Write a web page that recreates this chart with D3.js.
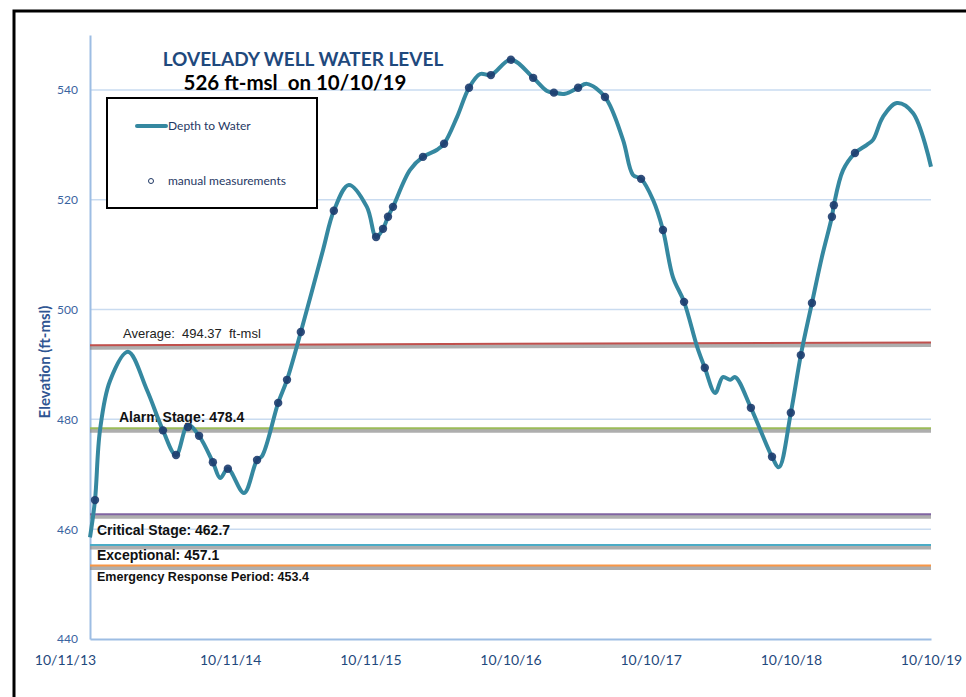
<!DOCTYPE html>
<html>
<head>
<meta charset="utf-8">
<script src="https://cdn.jsdelivr.net/npm/d3@7"></script>
<style>
  body { margin: 0; background: #fff; }
  svg { display: block; }
  .calib { font-family: Lato, 'Open Sans', sans-serif; }
  .arial { font-family: 'Liberation Sans', Arial, sans-serif; white-space: pre; }
</style>
</head>
<body>
<div id="chartContainer"></div>
<script>
// continuous well record (smoothed line)
var levelDates = ['2013-10-11','2013-10-24','2013-11-06','2013-12-02','2014-01-18','2014-03-08','2014-04-19','2014-05-23',
  '2014-06-23','2014-07-22','2014-08-27','2014-09-15','2014-10-05','2014-11-16','2014-12-20','2015-01-02','2015-02-13',
  '2015-03-08','2015-04-13','2015-06-10','2015-07-08','2015-08-16','2015-10-02','2015-10-26','2015-11-13','2015-11-26',
  '2015-12-09','2016-01-22','2016-02-25','2016-04-02','2016-04-20','2016-05-24','2016-06-24','2016-07-23','2016-08-20',
  '2016-10-11','2016-12-08','2017-01-13','2017-01-31','2017-03-01','2017-04-04','2017-04-27','2017-06-13','2017-07-30',
  '2017-08-25','2017-09-15','2017-10-16','2017-11-11','2017-12-07','2018-01-05','2018-02-08','2018-02-28','2018-03-27',
  '2018-04-16','2018-05-05','2018-05-18','2018-06-28','2018-08-22','2018-09-09','2018-10-10','2018-11-05','2018-12-04',
  '2018-12-30','2019-01-25','2019-01-30','2019-02-23','2019-03-26','2019-04-26','2019-05-12','2019-06-07','2019-07-13',
  '2019-08-24','2019-10-10'];
var levelValues = [458.5, 465.3, 478, 487, 492.3, 485.4, 478, 473.5,
  479, 477, 472.2, 469.3, 471, 466.6, 472.6, 473.3, 483,
  487.2, 495.9, 510.9, 518, 522.7, 518.7, 513.2, 514.7, 516.9,
  518.7, 525.4, 527.8, 529.1, 530.2, 535.1, 540.4, 542.9, 542.7,
  545.5, 542.2, 539.8, 539.5, 539.3, 540.4, 541.1, 538.7, 530.9,
  524.5, 523.8, 520, 514.5, 505.9, 501.4, 493.2, 489.4, 484.8,
  487.7, 487.2, 487.7, 482.1, 473.2, 471.3, 481.2, 491.7, 501.2,
  509.6, 516.9, 519, 525.4, 528.5, 530, 530.9, 535.1, 537.6,
  535.8, 526];

// manual measurements
var manualDates = ['2013-10-24','2014-04-19','2014-05-23','2014-06-23','2014-07-22','2014-08-27','2014-10-05','2014-12-20',
  '2015-02-13','2015-03-08','2015-04-13','2015-07-08','2015-10-26','2015-11-13','2015-11-26','2015-12-09','2016-02-25',
  '2016-04-20','2016-06-24','2016-08-20','2016-10-11','2016-12-08','2017-01-31','2017-04-04','2017-06-13','2017-09-15',
  '2017-11-11','2018-01-05','2018-02-28','2018-06-28','2018-08-22','2018-10-10','2018-11-05','2018-12-04','2019-01-25',
  '2019-01-30','2019-03-26'];
var manualValues = [465.3, 478, 473.5, 478.6, 477, 472.2, 471, 472.6,
  483, 487.2, 495.9, 518, 513.2, 514.7, 516.9, 518.7, 527.8,
  530.2, 540.4, 542.7, 545.5, 542.2, 539.5, 540.4, 538.7, 523.8,
  514.5, 501.4, 489.4, 482.1, 473.2, 481.2, 491.7, 501.2, 516.9,
  519, 528.5];

// stage lines
var stageNames = ['Average:  494.37  ft-msl', 'Alarm Stage: 478.4', 'Critical Stage: 462.7', 'Exceptional: 457.1', 'Emergency Response Period: 453.4'];
var stageStart = [493.5, 478.4, 462.7, 457.1, 453.4];
var stageEnd = [494.0, 478.4, 462.7, 457.1, 453.4];

var xTickDates = ['2013-10-11','2014-10-11','2015-10-11','2016-10-10','2017-10-10','2018-10-10','2019-10-10'];
var xTickLabels = ['10/11/13','10/11/14','10/11/15','10/10/16','10/10/17','10/10/18','10/10/19'];
var yTicks = [440, 460, 480, 500, 520, 540];

var width = 966,
    height = 697;
var plotLeft = 90, plotRight = 931, plotTop = 35, plotBottom = 639;

var parse = d3.timeParse('%Y-%m-%d');

var svg = d3.select('#chartContainer')
    .append('svg')
    .attr('width', width)
    .attr('height', height);

var xScale = d3.scaleTime()
    .domain([parse('2013-10-11'), parse('2019-10-10')])
    .range([plotLeft, plotRight]);

var yScale = d3.scaleLinear()
    .domain([440, 550])
    .range([plotBottom, plotTop]);

// outer frame
svg.append('rect')
    .attr('x', 14).attr('y', 11)
    .attr('width', 1000).attr('height', 1000)
    .attr('fill', 'none')
    .attr('stroke', '#000')
    .attr('stroke-width', 3);

// gridlines
svg.append('g')
    .selectAll('line')
    .data(yTicks.slice(1))
    .enter()
    .append('line')
    .attr('x1', plotLeft).attr('x2', plotRight)
    .attr('y1', d => yScale(d)).attr('y2', d => yScale(d))
    .attr('stroke', '#c9dbf0')
    .attr('stroke-width', 1.5);

// axes
var yAxis = d3.axisLeft(yScale).tickValues(yTicks).tickSize(0).tickPadding(12);
var gy = svg.append('g')
    .attr('id', 'y-axis')
    .attr('transform', 'translate(' + plotLeft + ',0)')
    .call(yAxis);
gy.select('.domain').attr('stroke', '#9dbde3').attr('stroke-width', 2);
gy.selectAll('text')
    .attr('class', 'calib')
    .style('font-size', '12px')
    .attr('fill', '#3a64a0');

var xAxis = d3.axisBottom(xScale)
    .tickValues(xTickDates.map(parse))
    .tickFormat((d, i) => xTickLabels[i])
    .tickSize(0)
    .tickPadding(16);
var gx = svg.append('g')
    .attr('id', 'x-axis')
    .attr('transform', 'translate(0,' + plotBottom + ')')
    .call(xAxis);
gx.select('.domain').attr('stroke', '#9dbde3').attr('stroke-width', 2);
gx.selectAll('text')
    .attr('class', 'calib')
    .style('font-size', '14px')
    .attr('fill', '#1f497d')
    .attr('dx', (d, i) => i === 0 ? -25 : 0);

// stage lines: grey shadow, then coloured line
var stageColors = ['#c0504d', '#9bbb59', '#8064a2', '#4bacc6', '#f79646'];
svg.append('g')
    .selectAll('line')
    .data(stageNames)
    .enter()
    .append('line')
    .attr('x1', plotLeft).attr('x2', plotRight)
    .attr('y1', (d, i) => yScale(stageStart[i]) + 2.5)
    .attr('y2', (d, i) => yScale(stageEnd[i]) + 2.5)
    .attr('stroke', '#8c8c8c')
    .attr('stroke-opacity', 0.7)
    .attr('stroke-width', 4);
svg.append('g')
    .selectAll('line')
    .data(stageNames)
    .enter()
    .append('line')
    .attr('x1', plotLeft).attr('x2', plotRight)
    .attr('y1', (d, i) => yScale(stageStart[i]))
    .attr('y2', (d, i) => yScale(stageEnd[i]))
    .attr('stroke', (d, i) => stageColors[i])
    .attr('stroke-width', 2);

// stage labels
var labelX = [123, 119, 97, 97, 97];
var labelDy = [-7, -6, 21, 15, 15.5];
var labelSize = ['13px', '14px', '14px', '14px', '12.5px'];
svg.append('g')
    .selectAll('text')
    .data(stageNames)
    .enter()
    .append('text')
    .attr('class', 'arial')
    .attr('x', (d, i) => labelX[i])
    .attr('y', (d, i) => yScale(stageStart[i]) + labelDy[i])
    .style('font-size', (d, i) => labelSize[i])
    .style('font-weight', (d, i) => i === 0 ? 'normal' : 'bold')
    .attr('fill', (d, i) => i === 0 ? '#222' : '#111')
    .text(d => d);

// water level line
var levelData = levelDates.map((d, i) => ({ date: parse(d), value: levelValues[i] }));
var line = d3.line()
    .x(d => xScale(d.date))
    .y(d => yScale(d.value))
    .curve(d3.curveCatmullRom.alpha(0.5));

svg.append('path')
    .datum(levelData)
    .attr('d', line)
    .attr('fill', 'none')
    .attr('stroke', '#3588a0')
    .attr('stroke-width', 4)
    .attr('stroke-linejoin', 'round');

// manual measurement dots
svg.append('g')
    .selectAll('circle')
    .data(manualDates)
    .enter()
    .append('circle')
    .attr('cx', d => xScale(parse(d)))
    .attr('cy', (d, i) => yScale(manualValues[i]))
    .attr('r', 4.2)
    .attr('fill', '#1d3c6e')
    .attr('fill-opacity', 0.9);

// title
svg.append('text')
    .attr('class', 'calib')
    .attr('x', 303).attr('y', 66)
    .attr('text-anchor', 'middle')
    .style('font-size', '19px')
    .style('font-weight', 'bold')
    .attr('fill', '#1f497d')
    .text('LOVELADY WELL WATER LEVEL');
svg.append('text')
    .attr('class', 'calib')
    .attr('x', 295).attr('y', 90)
    .attr('text-anchor', 'middle')
    .style('font-size', '20.5px')
    .style('font-weight', 'bold')
    .attr('fill', '#000')
    .style('white-space', 'pre')
    .text('526 ft-msl  on 10/10/19');

// legend
var legend = svg.append('g');
legend.append('rect')
    .attr('x', 107).attr('y', 98)
    .attr('width', 210).attr('height', 110)
    .attr('fill', '#fff')
    .attr('stroke', '#000')
    .attr('stroke-width', 2);
legend.append('line')
    .attr('x1', 137).attr('x2', 166)
    .attr('y1', 126).attr('y2', 126)
    .attr('stroke', '#3588a0')
    .attr('stroke-width', 4)
    .attr('stroke-linecap', 'round');
legend.append('text')
    .attr('class', 'calib')
    .attr('x', 168).attr('y', 130)
    .style('font-size', '12px')
    .attr('fill', '#1f3864')
    .text('Depth to Water');
legend.append('circle')
    .attr('cx', 151).attr('cy', 181)
    .attr('r', 2.5)
    .attr('fill', '#fff')
    .attr('stroke', '#1f3864')
    .attr('stroke-width', 1);
legend.append('text')
    .attr('class', 'calib')
    .attr('x', 168).attr('y', 185)
    .style('font-size', '12px')
    .attr('fill', '#1f3864')
    .text('manual measurements');

// y axis title
svg.append('text')
    .attr('class', 'calib')
    .attr('transform', 'translate(50,362) rotate(-90)')
    .attr('text-anchor', 'middle')
    .style('font-size', '15px')
    .style('font-weight', 'bold')
    .attr('fill', '#2f5592')
    .text('Elevation (ft-msl)');
</script>
</body>
</html>
